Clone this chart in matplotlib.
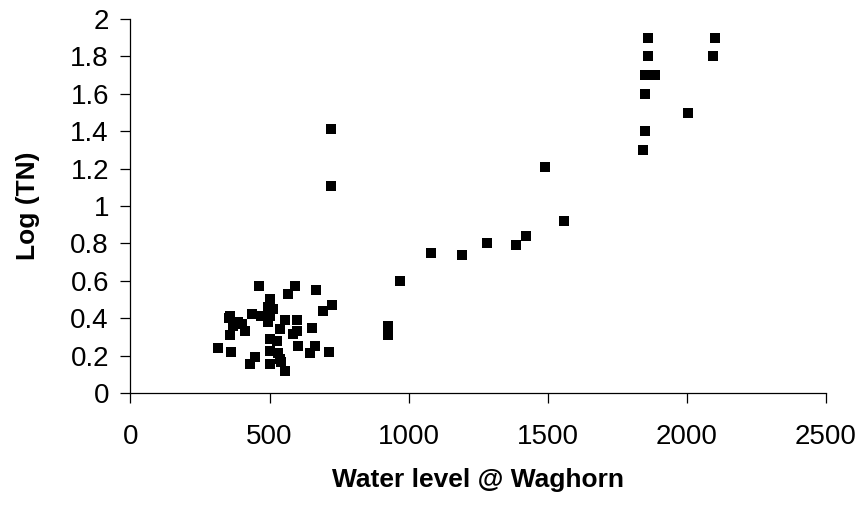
import numpy as np
import matplotlib
matplotlib.use('Agg')
import matplotlib.pyplot as plt

plt.rcParams['font.family'] = ['Liberation Sans', 'DejaVu Sans']

# water level @ Waghorn and Log(TN)
water_level = [
    315, 357, 355, 360, 358, 370, 385, 412, 400, 436, 430, 448, 463, 470,
    495, 501, 501, 495, 501, 501, 500, 512, 525, 531, 537, 537, 541, 555,
    555, 567, 591, 597, 597, 585, 603, 645, 651, 663, 667, 693, 715, 723,
    720, 720, 925, 925, 968, 1080, 1190, 1280, 1385, 1420, 1490, 1560,
    1841, 1849, 1849, 1848, 1885, 1861, 1861, 2003, 2093, 2100,
]
log_tn = [
    0.24, 0.41, 0.40, 0.22, 0.31, 0.36, 0.38, 0.33, 0.37, 0.42, 0.155, 0.19, 0.57, 0.41,
    0.46, 0.50, 0.41, 0.38, 0.29, 0.225, 0.155, 0.45, 0.28, 0.215, 0.34, 0.18, 0.165, 0.115,
    0.39, 0.53, 0.57, 0.39, 0.33, 0.315, 0.25, 0.215, 0.345, 0.25, 0.55, 0.44, 0.22, 0.47,
    1.41, 1.105, 0.36, 0.31, 0.60, 0.75, 0.74, 0.80, 0.79, 0.84, 1.21, 0.92,
    1.30, 1.40, 1.60, 1.70, 1.70, 1.80, 1.90, 1.50, 1.80, 1.90,
]
y_ticklabels = ['0', '0.2', '0.4', '0.6', '0.8', '1', '1.2', '1.4', '1.6', '1.8', '2']

fig = plt.figure(figsize=(8.63, 5.07), dpi=100)
ax = fig.add_axes([0.1512, 0.2249, 0.8059, 0.7376])

ax.plot(water_level, log_tn, 's', color='black', markersize=7.6,
        markeredgewidth=0, linestyle='none')

ax.set_xlim(0, 2500)
ax.set_ylim(0, 2)
ax.set_xticks(np.arange(0, 2501, 500))
ax.set_yticks(np.arange(0, 2.01, 0.2))
ax.set_yticklabels(y_ticklabels)

for s in ('top', 'right'):
    ax.spines[s].set_visible(False)
for s in ('left', 'bottom'):
    ax.spines[s].set_linewidth(0.9)
ax.tick_params(direction='out', length=7.5, width=0.9, labelsize=20)
ax.tick_params(axis='y', pad=8)
ax.tick_params(axis='x', pad=15)

ax.set_xlabel('Water level @ Waghorn', fontsize=19, fontweight='bold', labelpad=13)
ax.set_ylabel('Log (TN)', fontsize=19, fontweight='bold', labelpad=22)

fig.savefig('out.png', dpi=100)
